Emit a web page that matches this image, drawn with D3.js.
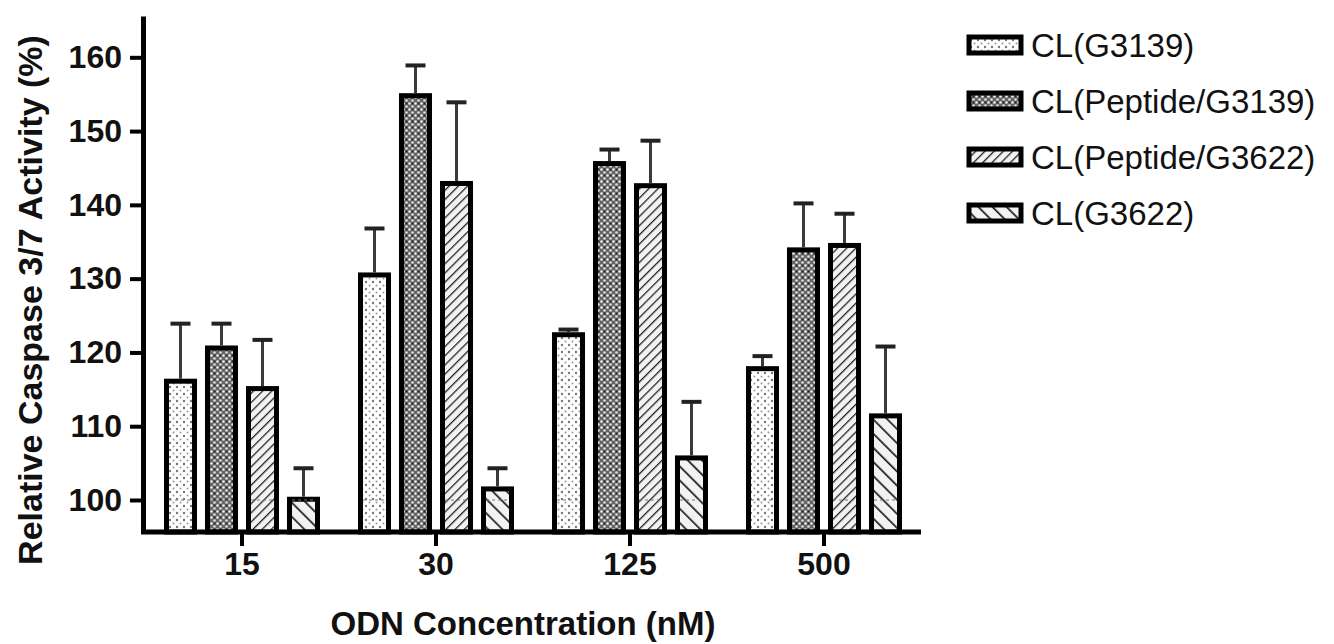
<!DOCTYPE html>
<html>
<head>
<meta charset="utf-8">
<script src="https://cdn.jsdelivr.net/npm/d3@7"></script>
<style>
  body { margin: 0; background: #fff; }
  svg text { font-family: "Liberation Sans", Arial, sans-serif; fill: #111; }
</style>
</head>
<body>
<div id="chartArea"></div>
<script>
// caspase bar chart

// data
var concentrations = ["15", "30", "125", "500"];
var seriesNames = ["CL(G3139)", "CL(Peptide/G3139)", "CL(Peptide/G3622)", "CL(G3622)"];
var g3139 = [116.1, 130.5, 122.4, 117.8];
var pepG3139 = [120.6, 154.8, 145.6, 133.9];
var pepG3622 = [115.1, 142.9, 142.6, 134.5];
var g3622 = [100.1, 101.5, 105.7, 111.4];
var g3139Err = [7.8, 6.3, 0.7, 1.7];
var pepG3139Err = [3.3, 4.1, 1.9, 6.3];
var pepG3622Err = [6.6, 11.0, 6.1, 4.3];
var g3622Err = [4.2, 2.8, 7.6, 9.4];
var yTicks = [100, 110, 120, 130, 140, 150, 160];

var means = [g3139, pepG3139, pepG3622, g3622];
var errs = [g3139Err, pepG3139Err, pepG3622Err, g3622Err];
var patternIds = ["pStipple", "pDense", "pFwd", "pBack"];

var width = 1334, height = 644;
var svg = d3.select("#chartArea").append("svg")
    .attr("width", width)
    .attr("height", height);

// patterns
var defs = svg.append("defs");

var p1 = defs.append("pattern").attr("id", "pStipple")
    .attr("patternUnits", "userSpaceOnUse").attr("width", 7).attr("height", 7);
p1.append("rect").attr("width", 7).attr("height", 7).attr("fill", "#fff");
p1.append("circle").attr("cx", 2).attr("cy", 2).attr("r", 1.2).attr("fill", "#777");
p1.append("circle").attr("cx", 5.5).attr("cy", 5.5).attr("r", 1).attr("fill", "#999");

var p2 = defs.append("pattern").attr("id", "pDense")
    .attr("patternUnits", "userSpaceOnUse").attr("width", 6).attr("height", 6);
p2.append("rect").attr("width", 6).attr("height", 6).attr("fill", "#666");
p2.append("circle").attr("cx", 1.5).attr("cy", 1.5).attr("r", 1.3).attr("fill", "#eee");
p2.append("circle").attr("cx", 4.5).attr("cy", 4.5).attr("r", 1.3).attr("fill", "#ddd");
p2.append("circle").attr("cx", 4.5).attr("cy", 1.5).attr("r", 1).attr("fill", "#222");

var p3 = defs.append("pattern").attr("id", "pFwd")
    .attr("patternUnits", "userSpaceOnUse").attr("width", 6.5).attr("height", 6.5)
    .attr("patternTransform", "rotate(45)");
p3.append("rect").attr("width", 6.5).attr("height", 6.5).attr("fill", "#f2f2f2");
p3.append("line").attr("x1", 0).attr("y1", 0).attr("x2", 0).attr("y2", 6.5)
    .attr("stroke", "#222").attr("stroke-width", 2.6);

var p4 = defs.append("pattern").attr("id", "pBack")
    .attr("patternUnits", "userSpaceOnUse").attr("width", 10).attr("height", 10)
    .attr("patternTransform", "rotate(-45)");
p4.append("rect").attr("width", 10).attr("height", 10).attr("fill", "#f2f2f2");
p4.append("line").attr("x1", 0).attr("y1", 0).attr("x2", 0).attr("y2", 10)
    .attr("stroke", "#222").attr("stroke-width", 3.5);

// scales
var x = d3.scaleBand()
    .domain(concentrations)
    .range([145, 921])
    .padding(0);
var xInner = d3.scaleBand()
    .domain(seriesNames)
    .range([0, 156])
    .paddingInner(0.195)
    .paddingOuter(0);
var y = d3.scaleLinear()
    .domain([95.66, 165.6])
    .range([532, 16]);

var groupOffset = (x.bandwidth() - 156) / 2;

// flatten to bar records
var bars = [];
concentrations.forEach(function(c, i) {
    seriesNames.forEach(function(s, j) {
        bars.push({ conc: c, series: s, idx: j, mean: means[j][i], err: errs[j][i] });
    });
});

var sw = 5;
var barG = svg.append("g");

barG.selectAll(".bar")
    .data(bars)
    .enter().append("rect")
    .attr("class", "bar")
    .attr("x", function(d) { return x(d.conc) + groupOffset + xInner(d.series) + sw / 2; })
    .attr("width", xInner.bandwidth() - sw)
    .attr("y", function(d) { return y(d.mean); })
    .attr("height", function(d) { return y(95.66) - y(d.mean); })
    .attr("fill", function(d) { return "url(#" + patternIds[d.idx] + ")"; })
    .attr("stroke", "#000")
    .attr("stroke-width", sw);

// faint 100 line showing through the bars
barG.selectAll(".hundred")
    .data(bars)
    .enter().append("line")
    .attr("x1", function(d) { return x(d.conc) + groupOffset + xInner(d.series) + sw; })
    .attr("x2", function(d) { return x(d.conc) + groupOffset + xInner(d.series) + xInner.bandwidth() - sw; })
    .attr("y1", y(100)).attr("y2", y(100))
    .attr("stroke", "#777")
    .attr("stroke-width", 1.2)
    .attr("stroke-dasharray", "3,3");

// error bars
var errG = svg.append("g");
bars.forEach(function(d) {
    var cx = x(d.conc) + groupOffset + xInner(d.series) + xInner.bandwidth() / 2;
    errG.append("line")
        .attr("x1", cx).attr("x2", cx)
        .attr("y1", y(d.mean) - sw / 2).attr("y2", y(d.mean + d.err))
        .attr("stroke", "#3a3a3a").attr("stroke-width", 3);
    errG.append("line")
        .attr("x1", cx - 10).attr("x2", cx + 10)
        .attr("y1", y(d.mean + d.err)).attr("y2", y(d.mean + d.err))
        .attr("stroke", "#222").attr("stroke-width", 4);
});

// axes
var yAxis = svg.append("g")
    .attr("transform", "translate(143,0)")
    .call(d3.axisLeft(y).tickValues(yTicks).tickSize(13).tickSizeOuter(0).tickPadding(8));
yAxis.select(".domain").attr("stroke", "#000").attr("stroke-width", 5);
yAxis.selectAll(".tick line").attr("stroke", "#000").attr("stroke-width", 4);
yAxis.selectAll(".tick text")
    .attr("font-size", "32px").attr("font-weight", "bold")
    .style("font-family", "'Liberation Sans', Arial, sans-serif").attr("fill", "#111");

var xAxis = svg.append("g")
    .attr("transform", "translate(0,532)")
    .call(d3.axisBottom(x).tickSize(14).tickSizeOuter(0).tickPadding(6));
xAxis.select(".domain").attr("stroke", "#000").attr("stroke-width", 5)
    .attr("d", "M141,0H921");
xAxis.selectAll(".tick line").attr("stroke", "#000").attr("stroke-width", 4);
xAxis.selectAll(".tick text")
    .attr("font-size", "32px").attr("font-weight", "bold")
    .style("font-family", "'Liberation Sans', Arial, sans-serif").attr("fill", "#111");

// axis titles
svg.append("text")
    .attr("transform", "translate(42,300)rotate(-90)")
    .attr("text-anchor", "middle")
    .attr("font-size", "34px")
    .attr("font-weight", "bold")
    .text("Relative Caspase 3/7 Activity (%)");

svg.append("text")
    .attr("x", 523)
    .attr("y", 635)
    .attr("text-anchor", "middle")
    .attr("font-size", "33px")
    .attr("font-weight", "bold")
    .text("ODN Concentration (nM)");

// legend
var legend = svg.append("g").attr("transform", "translate(969,45)");
var rows = legend.selectAll(".lg")
    .data(seriesNames)
    .enter().append("g")
    .attr("class", "lg")
    .attr("transform", function(d, i) { return "translate(0," + (i * 56) + ")"; });
rows.append("rect")
    .attr("x", 0).attr("y", -8)
    .attr("width", 52).attr("height", 16)
    .attr("fill", function(d, i) { return "url(#" + patternIds[i] + ")"; })
    .attr("stroke", "#000").attr("stroke-width", 5);
rows.append("text")
    .attr("x", 62)
    .attr("y", 0)
    .attr("dy", "0.36em")
    .attr("font-size", "33px")
    .attr("fill", "#222")
    .text(function(d) { return d; });
</script>
</body>
</html>
